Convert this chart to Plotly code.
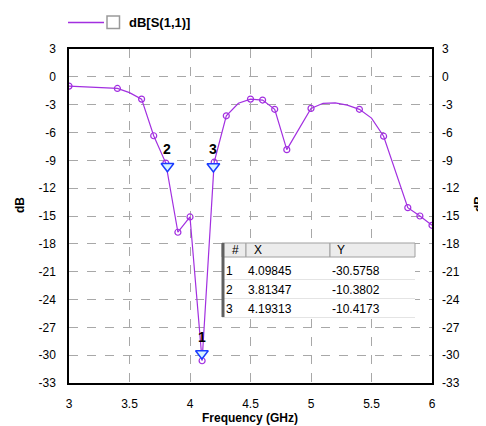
import plotly.graph_objects as go

# ---- data ----
freq_solved = [3.0, 3.4, 3.6, 3.7, 3.8, 3.9, 4.0, 4.1, 4.2, 4.3, 4.5, 4.6, 4.7, 4.8, 5.0, 5.4, 5.6, 5.8, 5.9, 6.0]
db_solved = [-1.0, -1.25, -2.4, -6.35, -9.3, -16.75, -15.1, -30.6, -9.2, -4.2, -2.4, -2.5, -3.5, -7.85, -3.4, -3.5, -6.4, -14.1, -15.0, -16.0]
freq_curve_extra = [3.5, 4.4, 5.1, 5.2, 5.3, 5.5]
db_curve_extra = [-1.7, -2.85, -2.85, -2.8, -3.05, -4.45]

marker_ids = ["1", "2", "3"]
marker_x = [4.09845, 3.81347, 4.19313]
marker_y = [-30.5758, -10.3802, -10.4173]
marker_x_text = ["4.09845", "3.81347", "4.19313"]
marker_y_text = ["-30.5758", "-10.3802", "-10.4173"]

x_ticks = [3, 3.5, 4, 4.5, 5, 5.5, 6]
x_tick_text = ["3", "3.5", "4", "4.5", "5", "5.5", "6"]
y_ticks = [3, 0, -3, -6, -9, -12, -15, -18, -21, -24, -27, -30, -33]
y_tick_text = ["3", "0", "-3", "-6", "-9", "-12", "-15", "-18", "-21", "-24", "-27", "-30", "-33"]

series_name = "dB[S(1,1)]"
x_title = "Frequency (GHz)"
y_title = "dB"

# ---- layout geometry (page pixels; page body adds an 8px offset) ----
OFF = 8
W, H = 486 - OFF, 426 - OFF
L, R, T, B = 69, 432, 49, 383   # plot area in page pixels
PURPLE = "#a22fe0"
FONT = "Liberation Sans, Arial, sans-serif"


def px(xp):
    return (xp - L) / (R - L)


def py(yp):
    return (B - yp) / (B - T)


pts = sorted(zip(freq_solved + freq_curve_extra, db_solved + db_curve_extra))
curve_x = [p[0] for p in pts]
curve_y = [p[1] for p in pts]

fig = go.Figure()
fig.add_trace(go.Scatter(x=curve_x, y=curve_y, mode="lines",
                         line=dict(color=PURPLE, width=1.2), showlegend=False, hoverinfo="skip"))
fig.add_trace(go.Scatter(x=freq_solved, y=db_solved, mode="markers",
                         marker=dict(symbol="circle-open", size=6, color=PURPLE, line=dict(width=1.2)),
                         showlegend=False))
# marker triangles (tip at the data point)
tri_offset = 0.75
fig.add_trace(go.Scatter(x=marker_x, y=[v + tri_offset for v in marker_y], mode="markers",
                         marker=dict(symbol="triangle-down", size=11, color="#d8f4ff",
                                     line=dict(color="#1a3cff", width=1.5)),
                         showlegend=False))
# invisible trace for the right axis
fig.add_trace(go.Scatter(x=[3, 6], y=[3, -33], yaxis="y2", mode="markers",
                         marker=dict(opacity=0), showlegend=False, hoverinfo="skip"))


def txt(xp, yp, text, size=12, xanchor="center", angle=0):
    return dict(x=px(xp), y=py(yp), xref="paper", yref="paper", text=text, showarrow=False,
                xanchor=xanchor, yanchor="middle", textangle=angle,
                font=dict(family=FONT, size=size, color="black"))


ann = []
for mid, mx, my in zip(marker_ids, marker_x, marker_y):
    ann.append(dict(x=mx, y=my, xref="x", yref="y", text=f"<b>{mid}</b>", showarrow=False,
                    xanchor="center", yanchor="middle",
                    yshift=24, font=dict(family=FONT, size=14, color="black")))

shapes = []
# ---- table ----
tl, tr, tt, tb = 222, 415, 243, 317
hb = 257
shapes.append(dict(type="rect", xref="paper", yref="paper", x0=px(tl), x1=px(tr), y0=py(tb), y1=py(tt),
                   fillcolor="white", line=dict(width=0), layer="above"))
col_edges = [tl, 246, 330, tr]
for i in range(3):
    shapes.append(dict(type="rect", xref="paper", yref="paper", x0=px(col_edges[i]), x1=px(col_edges[i + 1]),
                       y0=py(hb), y1=py(tt), fillcolor="#ececec", line=dict(color="#a0a0a0", width=1),
                       layer="above"))
row_mid = [270.5, 289.5, 308.5]
for rm in row_mid:
    shapes.append(dict(type="line", xref="paper", yref="paper", x0=px(tl), x1=px(tr), y0=py(rm + 9), y1=py(rm + 9),
                       line=dict(color="#e4e4e4", width=1), layer="above"))
shapes.append(dict(type="line", xref="paper", yref="paper", x0=px(tl + 1), x1=px(tl + 1), y0=py(tb), y1=py(tt),
                   line=dict(color="#606060", width=3), layer="above"))

hdr = ["#", "X", "Y"]
hdr_x = [235, 252, 335]
hdr_anchor = ["center", "left", "left"]
for h, hx, ha in zip(hdr, hdr_x, hdr_anchor):
    ann.append(txt(hx, 250, h, xanchor=ha))
for mid, xt, yt, rm in zip(marker_ids, marker_x_text, marker_y_text, row_mid):
    ann.append(txt(224, rm, mid, xanchor="left"))
    ann.append(txt(246, rm, xt, xanchor="left"))
    ann.append(txt(330, rm, yt, xanchor="left"))

# ---- legend ----
shapes.append(dict(type="line", xref="paper", yref="paper", x0=px(68), x1=px(104), y0=py(22.5), y1=py(22.5),
                   line=dict(color=PURPLE, width=1.5)))
shapes.append(dict(type="rect", xref="paper", yref="paper", x0=px(107), x1=px(119.5), y0=py(28.5), y1=py(16),
                   fillcolor="white", line=dict(color="#9a9a9a", width=1.5)))
ann.append(txt(127, 22.5, f"<b>{series_name}</b>", size=13, xanchor="left"))

# ---- axis titles ----
ann.append(txt(250, 418, f"<b>{x_title}</b>"))
ann.append(txt(20, 205, f"<b>{y_title}</b>", angle=-90))
ann.append(txt(479, 204, f"<b>{y_title}</b>", angle=-90))

grid = dict(showgrid=True, gridcolor="#a8a8a8", griddash="dash", gridwidth=1)
fig.update_layout(
    width=W, height=H,
    margin=dict(l=L - OFF, r=W - (R - OFF), t=T - OFF, b=H - (B - OFF), pad=0),
    paper_bgcolor="white", plot_bgcolor="white",
    showlegend=False,
    font=dict(family=FONT, size=12, color="black"),
    xaxis=dict(range=[3, 6], tickvals=x_ticks, ticktext=x_tick_text, showline=True, mirror=True,
               linecolor="black", linewidth=1.5, zeroline=False, ticks="", ticklabelstandoff=9, **grid),
    yaxis=dict(range=[-33, 3], tickvals=y_ticks, ticktext=y_tick_text, showline=True, mirror=True,
               linecolor="black", linewidth=1.5, zeroline=False, ticks="", ticklabelstandoff=9, **grid),
    yaxis2=dict(range=[-33, 3], tickvals=y_ticks, ticktext=y_tick_text, overlaying="y", side="right",
                showgrid=False, zeroline=False, showline=False, ticks="", ticklabelstandoff=9),
    annotations=ann,
    shapes=shapes,
)
fig.write_html("out.html")
